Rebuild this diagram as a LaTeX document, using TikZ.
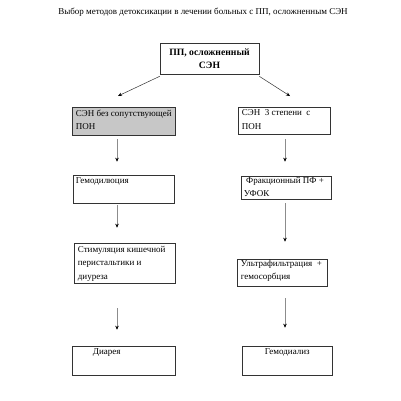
\documentclass[tikz,border=0pt]{standalone}
\usepackage{fontspec}
\setmainfont{Liberation Serif}
\usetikzlibrary{arrows.meta, positioning, calc}

\tikzset{
  blk/.style={draw=black!80, line width=0.6pt, inner sep=0pt},
  txt/.style={inner sep=0pt, anchor=north west, align=left},
  link/.style={draw=black!80, line width=0.5pt, -{Stealth[length=4pt, width=3.5pt, black]}},
  down/.style={draw=black!45, line width=0.5pt, -{Stealth[length=4pt, width=3.5pt, black]}}
}

\begin{document}
\begin{tikzpicture}[x=1pt, y=-1pt, font=\fontsize{9}{13.5}\selectfont]
\useasboundingbox (0,0) rectangle (401,400);
\node (title) at (203,12) {\fontsize{9}{11}\selectfont Выбор методов детоксикации в лечении больных с ПП, осложненным СЭН};

% top box
\node[blk, minimum width=99pt, minimum height=31pt, align=center, font=\fontsize{9.7}{13}\selectfont\bfseries] (top) at (209.5,58.5) {ПП, осложненный\\СЭН};

% left column
\node[blk, fill=black!22, minimum width=103pt, minimum height=28pt] (l1) at (123.5,121) {};
\node[blk, minimum width=101pt, minimum height=28pt] (l2) at (123.5,189) {};
\node[blk, minimum width=101pt, minimum height=40pt] (l3) at (124.5,263) {};
\node[blk, minimum width=103pt, minimum height=29pt] (l4) at (123.5,360.5) {};
\node[txt] (l1t) at ([shift={(4,3)}]l1.north west) {СЭН без сопутствующей\\ПОН};
\node[txt] (l2t) at ([shift={(3,3)}]l2.north west) {Гемодилюция};
\node[txt] (l3t) at ([shift={(4,3)}]l3.north west) {Стимуляция кишечной\\перистальтики и\\диуреза};
\node[txt] (l4t) at ([shift={(21,3)}]l4.north west) {Диарея};

% right column
\node[blk, minimum width=92pt, minimum height=27pt] (r1) at (284,120.5) {};
\node[blk, minimum width=90pt, minimum height=23pt] (r2) at (286,187.5) {};
\node[blk, minimum width=90pt, minimum height=27pt] (r3) at (282,272.5) {};
\node[blk, minimum width=90pt, minimum height=29pt] (r4) at (287,360.5) {};
\node[txt] (r1t) at ([shift={(4,3)}]r1.north west) {СЭН\ \ 3 степени\ \ с\\ПОН};
\node[txt] (r2t) at ([shift={(3,1)}]r2.north west) {\ Фракционный ПФ +\\УФОК};
\node[txt] (r3t) at ([shift={(4,1)}]r3.north west) {Ультрафильтрация\ \ +\\гемосорбция};
\node[txt] (r4t) at ([shift={(23,3)}]r4.north west) {Гемодиализ};

% connectors
\coordinate (lend) at (118,96);
\coordinate (rend) at (290,96);
\draw[link] ([yshift=-2pt]top.south west) -- (lend);
\draw[link] ([yshift=-2pt]top.south east) -- (rend);

\draw[down, shorten <=4pt, shorten >=13pt] ([xshift=-6.5pt]l1.south) -- ([xshift=-6.5pt]l2.north);
\draw[down, shorten <=2pt, shorten >=15pt] ([xshift=-6.5pt]l2.south) -- ([xshift=-6.5pt]l2.south |- l3.north);
\draw[down, shorten <=25pt, shorten >=16pt] ([xshift=-7.5pt]l3.south) -- ([xshift=-7.5pt]l3.south |- l4.north);

\draw[down, shorten <=5pt, shorten >=14pt] ([xshift=1pt]r1.south) -- ([xshift=1pt]r1.south |- r2.north);
\draw[down, shorten <=4pt, shorten >=17pt] ([xshift=-1pt]r2.south) -- ([xshift=-1pt]r2.south |- r3.north);
\draw[down, shorten <=12pt, shorten >=18pt] ([xshift=3pt]r3.south) -- ([xshift=3pt]r3.south |- r4.north);
\end{tikzpicture}
\end{document}
